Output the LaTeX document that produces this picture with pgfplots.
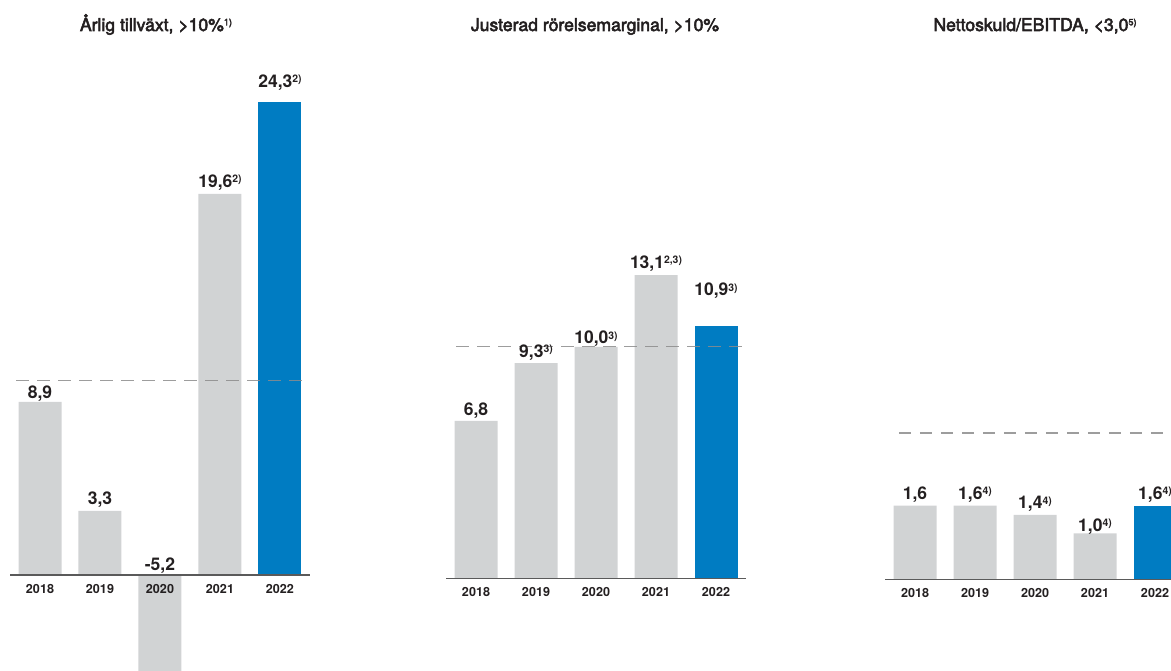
\documentclass[border=0pt]{standalone}
\usepackage{fontspec}
\setmainfont{TeX Gyre Heros}
\newfontfamily\medfont[FakeBold=3]{TeX Gyre Heros}
\usepackage{pgfplots}
\pgfplotsset{compat=1.18}
\definecolor{bargray}{RGB}{209,211,212}
\definecolor{barblue}{RGB}{0,124,194}
\definecolor{txt}{RGB}{35,31,32}
\definecolor{dashgray}{RGB}{140,140,140}
\definecolor{basegray}{RGB}{90,90,90}
\newcommand{\fn}[1]{\raisebox{2.4pt}{\fontsize{5.2}{6}\selectfont #1}}
\newcommand{\tfn}[1]{\raisebox{2.8pt}{\fontsize{4.6}{5}\selectfont #1}}
\tikzset{lbl/.style={anchor=base, font=\bfseries\fontsize{8.75}{10}\selectfont, text=txt, inner sep=0pt},
 ttl/.style={anchor=base, text=txt, font=\medfont\fontsize{8.8}{10}\selectfont, inner sep=0pt}}
\pgfplotsset{
 panel/.style={
  scale only axis, width=150pt, height=335pt,
  xmin=0.5, xmax=5.5,
  axis x line*=middle, axis y line=none,
  x axis line style={draw=basegray, line width=0.65pt},
  xtick={1,...,5}, xticklabels={2018,2019,2020,2021,2022},
  major tick length=0pt, ytick=\empty,
  xticklabel style={font=\bfseries\fontsize{6.3}{7}\selectfont, text=txt, anchor=north, yshift=-1pt},
  axis on top,
  anchor=south west,
 },
 gbar/.style={ybar, bar width=21.5pt, bar shift=0pt, fill=bargray, draw=none},
 bbar/.style={ybar, bar width=21.5pt, bar shift=0pt, fill=barblue, draw=none},
 target/.style={dashgray, line width=0.65pt, dash pattern=on 6.25pt off 4.25pt, opacity=0.85},
}
\begin{document}
\begin{tikzpicture}
\useasboundingbox (0,0) rectangle (585.5pt,335pt);
\clip (0,0) rectangle (585.5pt,335pt);
% titles
\node[ttl] at (78pt,319.5pt) {Årlig tillväxt, >10\%\tfn{1)}};
\node[ttl] at (297.5pt,319.5pt) {Justerad rörelsemarginal, >10\%};
\node[ttl] at (517.5pt,319.5pt) {Nettoskuld/EBITDA, <3,0\tfn{5)}};

% Panel 1
\begin{axis}[panel, at={(5pt,0pt)}, ymin=-4.884, ymax=29.563]
\addplot[gbar] coordinates {(1,8.9) (2,3.3) (3,-5.2) (4,19.6)};
\addplot[bbar] coordinates {(5,24.3)};
\addplot[target, forget plot] coordinates {(0.6,10) (5.5,10)};
\node[lbl, yshift=1.9pt] at (axis cs:1,8.9) {8,9};
\node[lbl, yshift=3pt] at (axis cs:2,3.3) {3,3};
\node[lbl, yshift=2.5pt] at (axis cs:3,0) {-5,2};
\node[lbl, yshift=3pt] at (axis cs:4,19.6) {19,6\fn{2)}};
\node[lbl, yshift=7.5pt] at (axis cs:5,24.3) {24,3\fn{2)}};
\end{axis}

% Panel 2
\begin{axis}[panel, at={(223pt,0pt)}, ymin=-3.961, ymax=24.981]
\addplot[gbar] coordinates {(1,6.8) (2,9.3) (3,10.0) (4,13.1)};
\addplot[bbar] coordinates {(5,10.9)};
\addplot[target, forget plot] coordinates {(0.67,10) (5.43,10)};
\node[lbl, yshift=2.5pt] at (axis cs:1,6.8) {6,8};
\node[lbl, yshift=3pt] at (axis cs:2,9.3) {9,3\fn{3)}};
\node[lbl, yshift=1.5pt] at (axis cs:3,10.0) {10,0\fn{3)}};
\node[lbl, yshift=3.5pt] at (axis cs:4,13.1) {13,1\fn{2,3)}};
\node[lbl, yshift=15pt] at (axis cs:5,10.9) {10,9\fn{3)}};
\end{axis}

% Panel 3
\begin{axis}[panel, at={(442.5pt,0pt)}, ymin=-1.972, ymax=12.593]
\addplot[gbar] coordinates {(1,1.6) (2,1.6) (3,1.4) (4,1.0)};
\addplot[bbar] coordinates {(5,1.6)};
\addplot[target, forget plot] coordinates {(0.73,3.18) (5.5,3.18)};
\node[lbl, yshift=3pt] at (axis cs:1,1.6) {1,6};
\node[lbl, yshift=3pt] at (axis cs:2,1.6) {1,6\fn{4)}};
\node[lbl, yshift=3pt] at (axis cs:3,1.4) {1,4\fn{4)}};
\node[lbl, yshift=1pt] at (axis cs:4,1.0) {1,0\fn{4)}};
\node[lbl, yshift=3pt] at (axis cs:5,1.6) {1,6\fn{4)}};
\end{axis}
\end{tikzpicture}
\end{document}
